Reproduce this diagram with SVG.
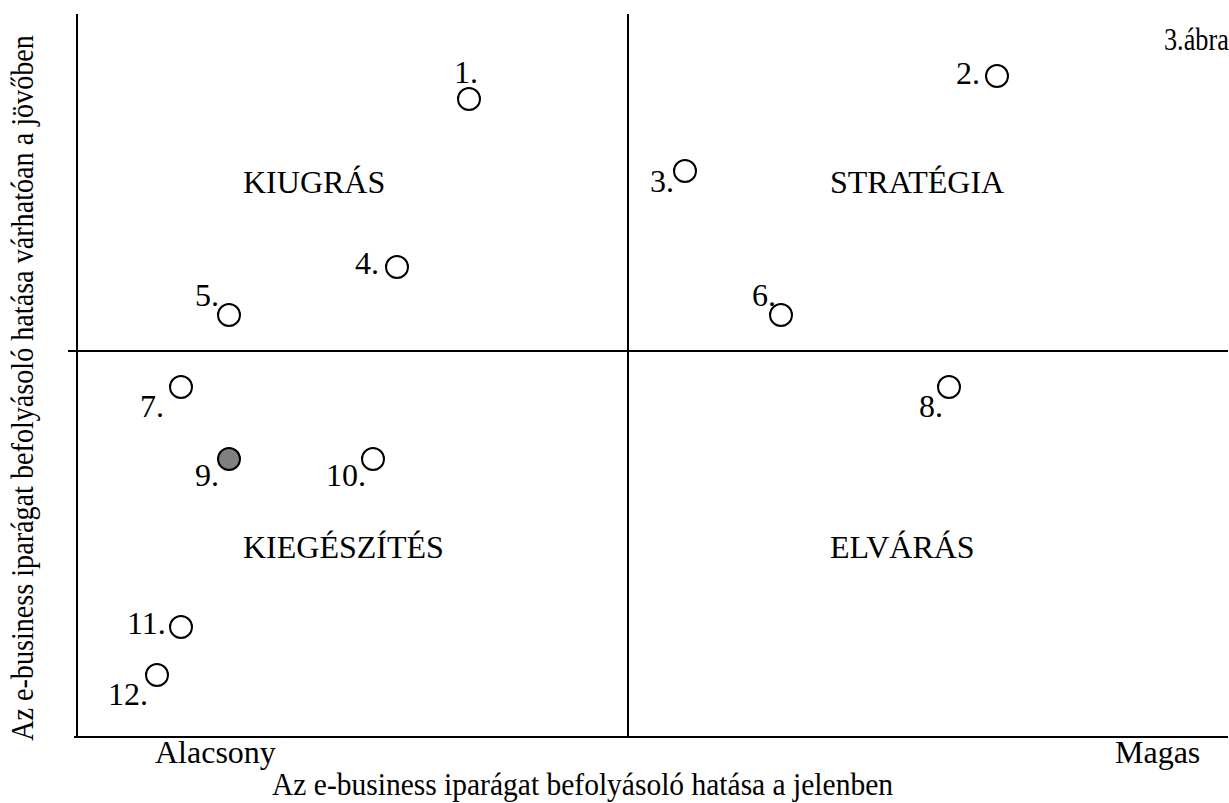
<svg xmlns="http://www.w3.org/2000/svg" width="1229" height="803" viewBox="0 0 1229 803">
<style>
text{font-family:"Liberation Serif","Times New Roman",serif;font-size:32px;fill:#000}
.ax{stroke:#000;stroke-width:2;fill:none}
.pt{fill:#fff;stroke:#000;stroke-width:2}
.pt.f{fill:#808080}
</style>
<rect width="1229" height="803" fill="#fff"/>
<g id="axes" class="ax">
<line x1="77" y1="14" x2="77" y2="738"/>
<line x1="628" y1="14" x2="628" y2="738"/>
<line x1="68" y1="351" x2="1228" y2="351"/>
<line x1="74" y1="737" x2="1228" y2="737"/>
</g>
<g id="labels">
<text transform="translate(1164,50) scale(0.82,1)">3.ábra</text>
<text x="243" y="193">KIUGRÁS</text>
<text x="830" y="193">STRATÉGIA</text>
<text x="243" y="558">KIEGÉSZÍTÉS</text>
<text x="830" y="558">ELVÁRÁS</text>
<text x="155" y="763">Alacsony</text>
<text x="1115" y="763">Magas</text>
<text x="272" y="795" textLength="621" lengthAdjust="spacingAndGlyphs">Az e-business iparágat befolyásoló hatása a jelenben</text>
<text transform="translate(33,388) rotate(-90) scale(0.88,1)" text-anchor="middle">Az e-business  iparágat befolyásoló hatása várhatóan a jövőben</text>
</g>
<g id="p1"><circle class="pt" cx="469" cy="99" r="11"/><text x="454" y="83">1.</text></g>
<g id="p2"><circle class="pt" cx="997" cy="76" r="11"/><text x="956" y="84">2.</text></g>
<g id="p3"><circle class="pt" cx="685" cy="171" r="11"/><text x="650" y="192">3.</text></g>
<g id="p4"><circle class="pt" cx="397" cy="267" r="11"/><text x="355" y="274">4.</text></g>
<g id="p5"><circle class="pt" cx="229" cy="315" r="11"/><text x="195" y="306">5.</text></g>
<g id="p6"><circle class="pt" cx="781" cy="315" r="11"/><text x="752" y="306">6.</text></g>
<g id="p7"><circle class="pt" cx="181" cy="387" r="11"/><text x="140" y="417">7.</text></g>
<g id="p8"><circle class="pt" cx="949" cy="387" r="11"/><text x="919" y="417">8.</text></g>
<g id="p9"><circle class="pt f" cx="229" cy="459" r="11"/><text x="195" y="486">9.</text></g>
<g id="p10"><circle class="pt" cx="373" cy="459" r="11"/><text x="326" y="486">10.</text></g>
<g id="p11"><circle class="pt" cx="181" cy="627" r="11"/><text x="127" y="634">11.</text></g>
<g id="p12"><circle class="pt" cx="157" cy="675" r="11"/><text x="108" y="705">12.</text></g>
</svg>
